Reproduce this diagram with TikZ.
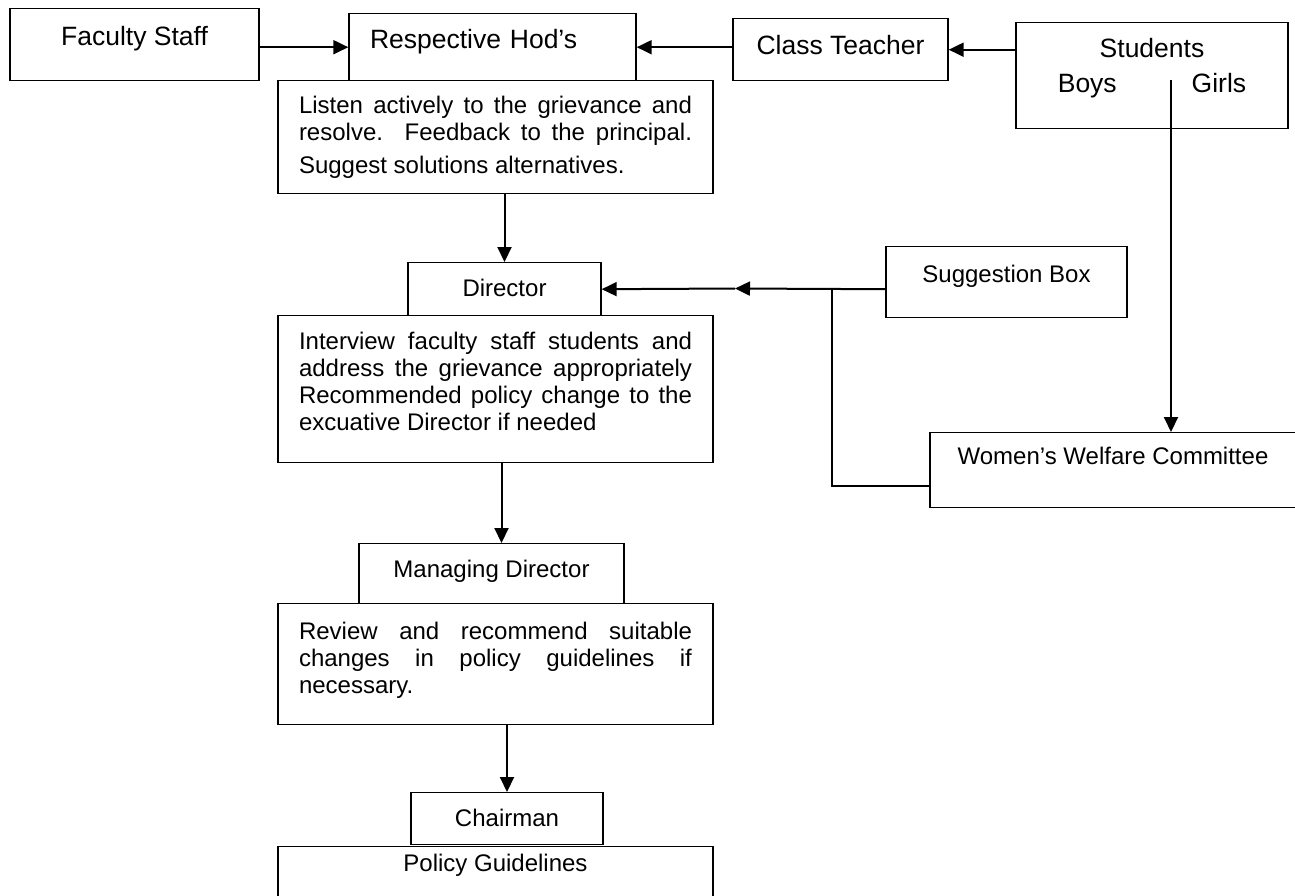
\documentclass[tikz,border=0pt]{standalone}
\usepackage{fontspec}
\setmainfont{Liberation Sans}
\usetikzlibrary{arrows.meta}
\hyphenpenalty=10000
\exhyphenpenalty=10000
\tolerance=10000
\hbadness=10000
\newcommand\parafont{\fontsize{12}{13.4}\selectfont\spaceskip=0.278em plus 1em minus 0.05em\relax}

\begin{document}
\begin{tikzpicture}[x=0.5pt,y=-0.5pt,
    rect/.style={draw, line width=0.7pt, inner ysep=0pt, anchor=north},
    big/.style={rect, font=\fontsize{13.25}{17.5}\selectfont},
    small/.style={rect, font=\fontsize{12}{14}\selectfont},
    para/.style={rect, minimum width=217.5pt, inner xsep=10.5pt, text width=196.5pt, align=justify, font=\parafont},
    arr/.style={-{Triangle[length=7.5pt,width=7pt]}, line width=1pt}]
      \useasboundingbox (0,0) rectangle (1295,895);

      % top row
      \node[big, minimum width=124.5pt, text height=18.5pt, text depth=17.5pt] (faculty) at (134.5,8) {Faculty Staff};
      \node[big, minimum width=143.5pt, inner xsep=10.5pt, text width=122.5pt, align=left, text height=17.5pt, text depth=16pt] (hod) at (492.5,13) {Respective Hod’s};
      \node[big, minimum width=107.5pt, text height=18pt, text depth=13pt] (teacher) at (840.5,18) {Class Teacher};
      \node[big, minimum width=136pt, inner xsep=4pt, text width=128pt, align=center, text height=17.5pt, text depth=35.5pt] (students) at (1152,22) {Students\\Boys\hspace{37.5pt}Girls};

      % main column
      \node[para, text height=16.5pt, text depth=40pt] (listen) at (495.5,80) {Listen actively to the grievance and resolve.\ \ Feedback to the principal.\parfillskip=0pt\par\parfillskip=0pt plus 1fil\vspace{3pt}Suggest solutions alternatives.};
      \node[small, minimum width=96.5pt, text height=17pt, text depth=9.5pt] (director) at (504.5,262) {Director};
      \node[para, text height=17pt, text depth=56.5pt] (interview) at (495.5,315) {Interview faculty staff students and address the grievance appropriately Recommended policy change to the excuative Director if needed};
      \node[small, minimum width=132.5pt, text height=17pt, text depth=13pt] (managing) at (491.5,543) {Managing Director};
      \node[para, text height=18pt, text depth=42.5pt] (review) at (495.5,603) {Review and recommend suitable changes in policy guidelines if necessary.};
      \node[small, minimum width=96pt, text height=17pt, text depth=9pt] (chairman) at (507,792) {Chairman};
      \node[small, minimum width=217.5pt, text height=12.5pt, text depth=30pt] (policy) at (495.5,846) {Policy Guidelines};

      % right side
      \node[small, minimum width=120.5pt, text height=18pt, text depth=17.5pt] (suggestion) at (1006.5,246) {Suggestion Box};
      \node[small, minimum width=183pt, text height=16pt, text depth=21.5pt] (women) at (1113,432) {Women’s Welfare Committee};

      \coordinate (split) at (1171,80);
      \coordinate (tee) at (832,288.5);
      \coordinate (midtip) at (735,288.5);

      \draw[arr] (faculty.east |- hod.west) -- (hod.west);
      \draw[arr] (teacher.west |- hod.east) -- (hod.east);
      \draw[arr] (students.west |- teacher.east) -- (teacher.east);
      \draw[arr] (split) -- (split |- women.north);
      \draw[arr] (director.north |- listen.south) -- (director.north);
      \draw[arr] (suggestion.west |- director.east) -- (midtip);
      \draw[arr] (midtip) -- (director.east);
      \draw[line width=1pt] ([yshift=-8pt]women.west) -| (tee);
      \draw[arr] ([xshift=3pt]interview.south) -- ([xshift=3pt]interview.south |- managing.north);
      \draw[arr] (chairman.north |- review.south) -- (chairman.north);
    \end{tikzpicture}
\end{document}
